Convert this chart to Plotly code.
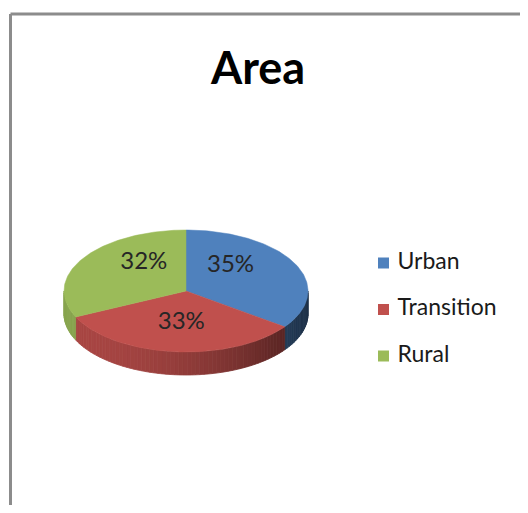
import numpy as np
import plotly.graph_objects as go

# ---- data ----
categories = ["Urban", "Transition", "Rural"]
values = [35, 33, 32]
colors = ["#4F81BD", "#C0504D", "#9BBB59"]
title_text = "Area"

# ---- geometry (page pixel space; page body has an 8px margin) ----
PAGE_W, PAGE_H = 528, 513
OFF = 8
cx, cy = 186.0, 291.0
rx, ry = 122.0, 61.0
depth = 23.0
FONT = "Lato"


def hex_to_rgb(h):
    h = h.lstrip("#")
    return tuple(int(h[i:i + 2], 16) for i in (0, 2, 4))


def shade(h, f):
    r, g, b = hex_to_rgb(h)
    return "rgb(%d,%d,%d)" % (min(255, r * f), min(255, g * f), min(255, b * f))


def pt(theta_deg, dy=0.0):
    t = np.radians(theta_deg)
    return cx + rx * np.sin(t), cy - ry * np.cos(t) + dy


total = float(sum(values))
fracs = [v / total for v in values]
starts = []
acc = 0.0
for f in fracs:
    starts.append(acc * 360.0)
    acc += f
ends = [s + f * 360.0 for s, f in zip(starts, fracs)]

fig = go.Figure()

# ---- side walls (visible front half: 90..270 deg) ----
for name, s, e, col in zip(categories, starts, ends, colors):
    a0, a1 = max(s, 90.0), min(e, 270.0)
    if a1 <= a0:
        continue
    n = max(2, int(np.ceil((a1 - a0) / 2.0)))
    edges = np.linspace(a0, a1, n + 1)
    for t0, t1 in zip(edges[:-1], edges[1:]):
        x0, y0 = pt(t0)
        x1, y1 = pt(t1)
        xm = 0.5 * (x0 + x1)
        tt = (xm - (cx - rx)) / (2 * rx)
        fct = 0.88 - 0.5 * tt ** 2
        c = shade(col, fct)
        fig.add_trace(go.Scatter(
            x=[x0, x1, x1, x0, x0],
            y=[y0, y1, y1 + depth, y0 + depth, y0],
            mode="lines", fill="toself", fillcolor=c,
            line=dict(color=c, width=0.8),
            hoverinfo="skip", showlegend=False))

# ---- top faces ----
for name, s, e, col in zip(categories, starts, ends, colors):
    th = np.linspace(s, e, 120)
    xs = [cx] + [pt(t)[0] for t in th] + [cx]
    ys = [cy] + [pt(t)[1] for t in th] + [cy]
    fig.add_trace(go.Scatter(
        x=xs, y=ys, mode="lines", fill="toself", fillcolor=col,
        line=dict(color=col, width=0.5), name=name,
        hoverinfo="skip", showlegend=False))

# ---- percentage labels ----
lx, ly, lt = [], [], []
for v, s, e in zip(values, starts, ends):
    m = np.radians(0.5 * (s + e))
    lx.append(cx + 0.41 * rx * np.sin(m))
    ly.append(cy - 7 - 0.645 * ry * np.cos(m))
    lt.append("%d%%" % round(v / total * 100))
fig.add_trace(go.Scatter(
    x=lx, y=ly, mode="text", text=lt,
    textfont=dict(family=FONT, size=24, color="#262626"),
    hoverinfo="skip", showlegend=False))

# ---- legend (manual) ----
leg_x, leg_y0, leg_dy = 383.5, 263, 46.5
leg_ys = [leg_y0 + i * leg_dy for i in range(len(categories))]
fig.add_trace(go.Scatter(
    x=[leg_x] * len(categories), y=leg_ys, mode="markers",
    marker=dict(symbol="square", size=11, color=colors, line=dict(width=0)),
    hoverinfo="skip", showlegend=False))
fig.add_trace(go.Scatter(
    x=[leg_x + 14] * len(categories), y=leg_ys, mode="text",
    text=categories, textposition="middle right",
    textfont=dict(family=FONT, size=23, color="#1a1a1a"),
    hoverinfo="skip", showlegend=False))

# ---- frame (left and top edges only; the rest lies outside the view) ----
fig.add_shape(type="line", x0=10.5, y0=14, x1=PAGE_W, y1=14,
              line=dict(color="#8c8c8c", width=3), layer="above")
fig.add_shape(type="line", x0=10.5, y0=14, x1=10.5, y1=PAGE_H,
              line=dict(color="#8c8c8c", width=3), layer="above")

fig.update_layout(
    width=PAGE_W - 2 * OFF, height=PAGE_H - 2 * OFF,
    margin=dict(l=0, r=0, t=0, b=0),
    paper_bgcolor="white", plot_bgcolor="white",
    xaxis=dict(range=[OFF, PAGE_W - OFF], visible=False, fixedrange=True),
    yaxis=dict(range=[PAGE_H - OFF, OFF], visible=False, fixedrange=True),
    annotations=[dict(x=257, y=67, xref="x", yref="y", text="<b>%s</b>" % title_text,
                      showarrow=False, font=dict(family=FONT, size=45, color="black"),
                      xanchor="center", yanchor="middle")],
)

fig.write_html("out.html")
